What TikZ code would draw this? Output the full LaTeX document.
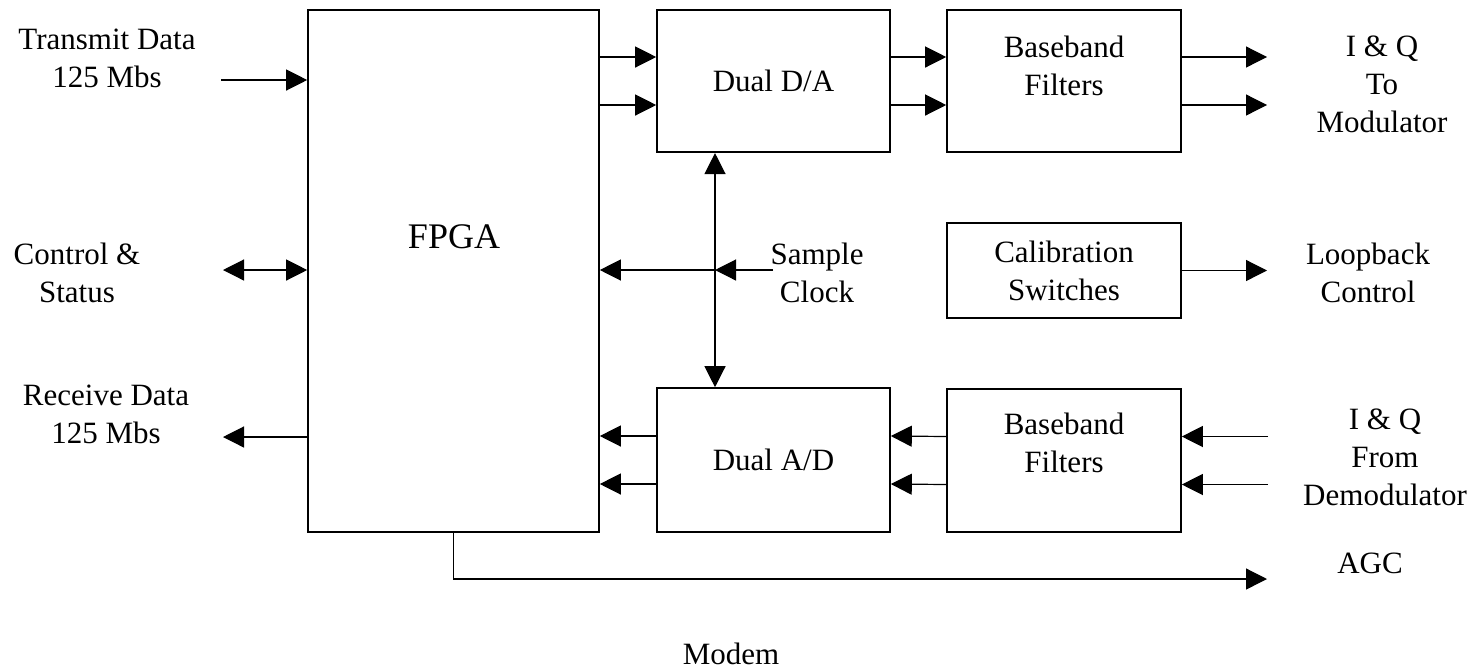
\documentclass[tikz,border=0pt]{standalone}
\usepackage{fontspec}
\setmainfont{Liberation Serif}
\usepackage{tikz}
\usetikzlibrary{arrows.meta,calc}
\newcommand{\lblsize}{\fontsize{15.5pt}{19pt}\selectfont}

\begin{document}
\begin{tikzpicture}[x=0.5pt, y=-0.5pt,
    blk/.style={draw, line width=0.8pt, inner sep=0pt},
    txt/.style={font=\lblsize, align=center, inner sep=0pt},
    arr/.style={-{Triangle[length=10.5pt,width=10.5pt]}, line width=0.6pt},
    dblarr/.style={{Triangle[length=10.5pt,width=10.5pt]}-{Triangle[length=10.5pt,width=10.5pt]}, line width=0.6pt}]
    \useasboundingbox (0,0) rectangle (1475,671);

    % FPGA block
    \node[blk, minimum width=145.5pt, minimum height=261pt] (fpga) at (453.5,271) {};
    \node[font=\fontsize{18pt}{22pt}\selectfont, inner sep=0pt] (fpgalbl) at (454,237) {FPGA};

    % Transmit chain
    \node[blk, txt, minimum width=116.5pt, minimum height=71.25pt] (dac) at (773.5,81) {Dual D/A};
    \node[blk, minimum width=117pt, minimum height=71.25pt] (bbtop) at (1064,81) {};
    \node[txt] (bbtoplbl) at ([yshift=7.5pt]bbtop.center) {Baseband\\Filters};

    % Calibration
    \node[blk, txt, minimum width=117pt, minimum height=47.5pt] (cal) at (1064,270.5) {Calibration\\Switches};

    % Receive chain
    \node[blk, txt, minimum width=116.5pt, minimum height=72pt] (adc) at (773.5,460) {Dual A/D};
    \node[blk, minimum width=117pt, minimum height=71.5pt] (bbbot) at (1064,460.5) {};
    \node[txt] (bbbotlbl) at ([yshift=9pt]bbbot.center) {Baseband\\Filters};

    % Outside labels
    \node[txt] (txlbl) at (107,58) {Transmit Data\\125 Mbs};
    \node[txt] (ctllbl) at (77,272.5) {Control \&\\Status};
    \node[txt] (rxlbl) at (106,414.5) {Receive Data\\125 Mbs};
    \node[txt] (clklbl) at (817,272.5) {Sample\\Clock};
    \node[txt] (loopl) at (1368,272.5) {Loopback\\Control};
    \node[txt] (iqtolbl) at (1382,84.5) {I \& Q\\To\\Modulator};
    \node[txt] (iqfromlbl) at (1385,457.5) {I \& Q\\From\\Demodulator};
    \node[txt] (agclbl) at (1370,563) {AGC};
    \node[txt] (modemlbl) at (731,654) {Modem};

    % Free ends
    \coordinate (txin) at (221,80);
    \coordinate (ctl) at (223,270);
    \coordinate (rxout) at (223,437);
    \coordinate (clkin) at (773,270);
    \coordinate (clkj) at (715,270);
    \coordinate (iqout) at (1267,81);
    \coordinate (iqin) at (1268,460.5);
    \coordinate (agcout) at (1267,579);

    % FPGA side ports
    \draw[arr] (txin) -- (txin -| fpga.west);
    \draw[dblarr] (ctl) -- (ctl -| fpga.west);
    \draw[arr] (rxout -| fpga.west) -- (rxout);

    % I and Q pairs
    \foreach \dy in {12pt,-12pt} {
        \draw[arr] ([yshift=\dy]dac.west -| fpga.east) -- ([yshift=\dy]dac.west);
        \draw[arr] ([yshift=\dy]dac.east) -- ([yshift=\dy]bbtop.west);
        \draw[arr] ([yshift=\dy]bbtop.east) -- ([yshift=\dy]iqout);
        \draw[arr] ([yshift=\dy]iqin) -- ([yshift=\dy]bbbot.east);
        \draw[arr] ([yshift=\dy]bbbot.west) -- ([yshift=\dy]adc.east);
        \draw[arr] ([yshift=\dy]adc.west) -- ([yshift=\dy]adc.west -| fpga.east);
    }

    % Sample clock
    \draw[arr] (clkin) -- (clkj);
    \draw[arr] (clkj) -- (clkj -| fpga.east);
    \draw[dblarr] (clkj |- dac.south) -- (clkj |- adc.north);

    % Loopback and AGC
    \draw[arr] (cal.east) -- (cal.east -| iqout);
    \draw[arr] (fpga.south) |- (agcout);

\end{tikzpicture}
\end{document}
